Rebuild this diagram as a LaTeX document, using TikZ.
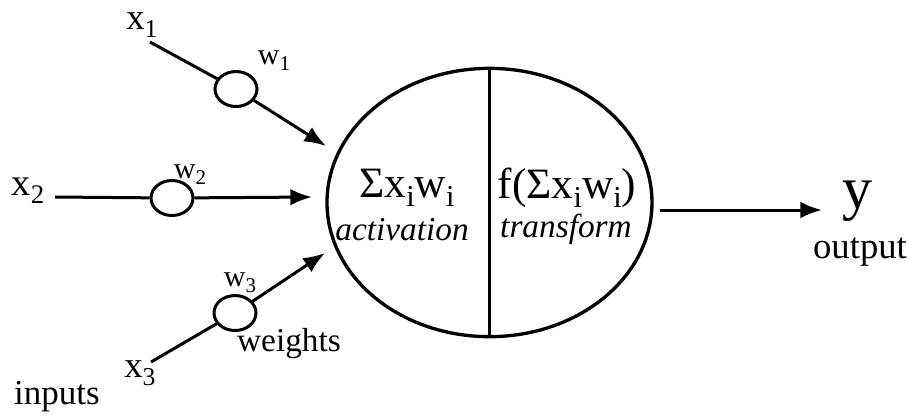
\documentclass[tikz,border=0pt]{standalone}
\usepackage{fontspec}
\setmainfont{Liberation Serif}
\usetikzlibrary{arrows.meta,shapes.geometric}
\newcommand{\fsz}[1]{\fontsize{#1}{#1}\selectfont}
\newcommand{\sbs}[1]{\raisebox{-0.45ex}{\fontsize{0.7em}{0.7em}\selectfont #1}}
\begin{document}
\begin{tikzpicture}[x=0.3pt,y=-0.3pt,line width=0.9pt,
  wcirc/.style={ellipse,draw,inner sep=0pt,minimum width=12.6pt,minimum height=10.5pt},
  arr/.style={-{Latex[length=6.5pt,width=5pt]}},
  lbl/.style={inner sep=0pt}]
\useasboundingbox (0,0) rectangle (908,416);
% main cell
\node[ellipse,draw,line width=1pt,inner sep=0pt,minimum width=97.5pt,minimum height=80.5pt] (cell) at (489.5,202.5) {};
\draw[line width=1pt] (cell.north) -- (cell.south);
\node[lbl] (sum) at (407,188) {\fsz{13}Σx\sbs{i}w\sbs{i}};
\node[lbl] (act) at (402,230) {\fsz{10}\itshape activation};
\node[lbl] (fsum) at (567,188) {\fsz{13}f(Σx\sbs{i}w\sbs{i})};
\node[lbl] (trf) at (566,229) {\fsz{10}\itshape transform};
% weights
\node[wcirc] (w1) at (236,89) {};
\node[wcirc] (w2) at (172,198) {};
\node[wcirc] (w3) at (235,313) {};
% input labels
\node[lbl] (x1) at (142,25) {\fsz{11}x\sbs{1}};
\node[lbl] (x2) at (28,191) {\fsz{11.5}x\sbs{2}};
\node[lbl] (x3) at (140,373) {\fsz{11}x\sbs{3}};
\node[lbl] (lw1) at (274,61) {\fsz{9}w\sbs{1}};
\node[lbl] (lw2) at (190,175) {\fsz{9}w\sbs{2}};
\node[lbl] (lw3) at (240,283) {\fsz{9}w\sbs{3}};
\node[lbl] (wts) at (289,344) {\fsz{10}weights};
\node[lbl] (inp) at (57,397) {\fsz{10.5}inputs};
% output
\node[lbl] (y) at (858,201) {\fsz{18}y};
\node[lbl] (out) at (860,252) {\fsz{11}output};
% connector end points
\coordinate (s1) at (150,42);
\coordinate (s2) at (55,197);
\coordinate (s3) at (151,362);
\coordinate (t1) at (326,146);
\coordinate (t2) at (312,197);
\coordinate (t3) at (325,253);
\coordinate (so) at (660,210);
\coordinate (to) at (822,210);
% connectors
\draw (s1) -- (w1);
\draw[arr] (w1) -- (t1);
\draw (s2) -- (w2);
\draw[arr] (w2) -- (t2);
\draw (s3) -- (w3);
\draw[arr] (w3) -- (t3);
\draw[arr] (so) -- (to);
\end{tikzpicture}
\end{document}
